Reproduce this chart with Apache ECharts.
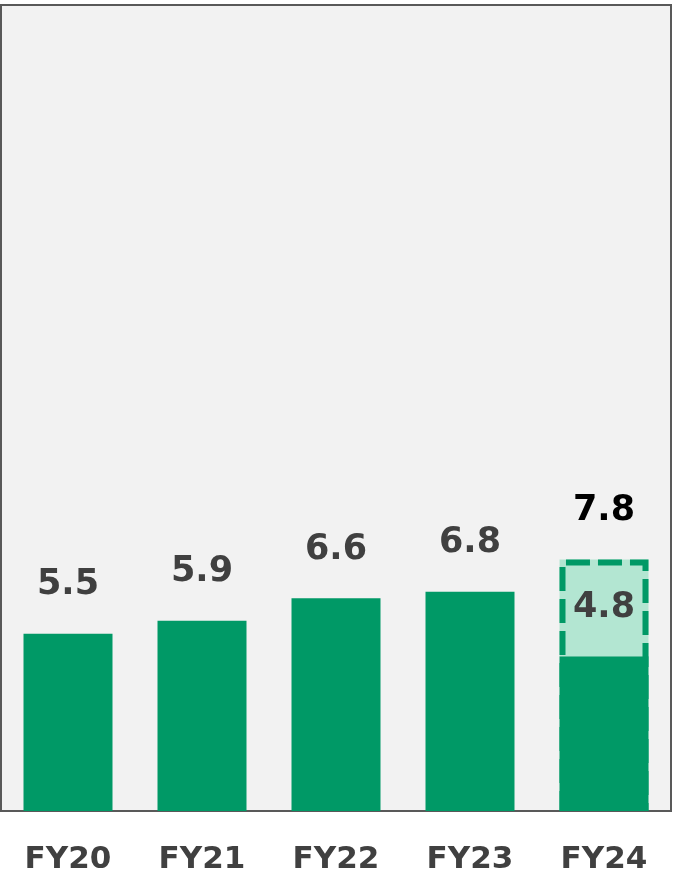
<!DOCTYPE html>
<html>
<head>
<meta charset="utf-8">
<script src="https://cdn.jsdelivr.net/npm/echarts@6/dist/echarts.min.js"></script>
<style>
  html, body { margin: 0; padding: 0; background: #ffffff; }
  #chart { width: 674px; height: 875px; }
</style>
</head>
<body>
<div id="chart"></div>
<script>
// Fiscal years on the x axis
const categories = ['FY20', 'FY21', 'FY22', 'FY23', 'FY24'];
// Actual results per year
const actual = [5.5, 5.9, 6.6, 6.8, 4.8];
// Full-year forecast (only for the current year)
const forecast = [null, null, null, null, 7.8];

// Portion of the forecast still to come, stacked on top of the actual bar
const remaining = forecast.map((f, i) => (f == null ? null : +(f - actual[i]).toFixed(1)));

const GREEN = '#009966';
const LIGHT_GREEN = '#b3e6d2';
const TEXT = '#404040';
const FONT = 'DejaVu Sans';

const chart = echarts.init(document.getElementById('chart'));

const valueLabel = {
  color: TEXT,
  fontFamily: FONT,
  fontWeight: 'bold',
  fontSize: 35
};

chart.setOption({
  animation: false,
  grid: {
    left: 1, right: 3, top: 5, bottom: 64,
    show: true,
    backgroundColor: '#f2f2f2',
    borderColor: '#595959',
    borderWidth: 2
  },
  xAxis: {
    type: 'category',
    data: categories,
    axisLine: { show: true, lineStyle: { color: '#595959', width: 2 } },
    axisTick: { show: false },
    axisLabel: {
      margin: 33,
      color: TEXT,
      fontFamily: FONT,
      fontWeight: 'bold',
      fontSize: 31
    }
  },
  yAxis: {
    type: 'value',
    min: 0,
    max: 25,
    show: false,
    splitLine: { show: false }
  },
  series: [
    {
      name: 'actual',
      type: 'bar',
      stack: 'total',
      barWidth: 89,
      data: actual.map((v, i) => ({
        value: v,
        label: { show: forecast[i] == null }
      })),
      itemStyle: { color: GREEN },
      label: Object.assign({
        position: 'top',
        distance: 31,
        formatter: p => p.value.toFixed(1)
      }, valueLabel)
    },
    {
      name: 'remaining',
      type: 'bar',
      stack: 'total',
      barWidth: 89,
      data: remaining,
      itemStyle: { color: LIGHT_GREEN },
      label: Object.assign({
        show: true,
        position: 'inside',
        formatter: p => actual[p.dataIndex].toFixed(1)
      }, valueLabel)
    },
    {
      name: 'forecast',
      type: 'bar',
      barGap: '-100%',
      barWidth: 89,
      z: 5,
      data: forecast,
      itemStyle: {
        color: 'rgba(0,0,0,0)',
        borderColor: GREEN,
        borderWidth: 6,
        borderType: [24, 8]
      },
      label: Object.assign({
        show: true,
        position: 'top',
        distance: 31,
        formatter: p => p.value.toFixed(1)
      }, valueLabel, { color: '#000000' })
    }
  ]
});
</script>
</body>
</html>
